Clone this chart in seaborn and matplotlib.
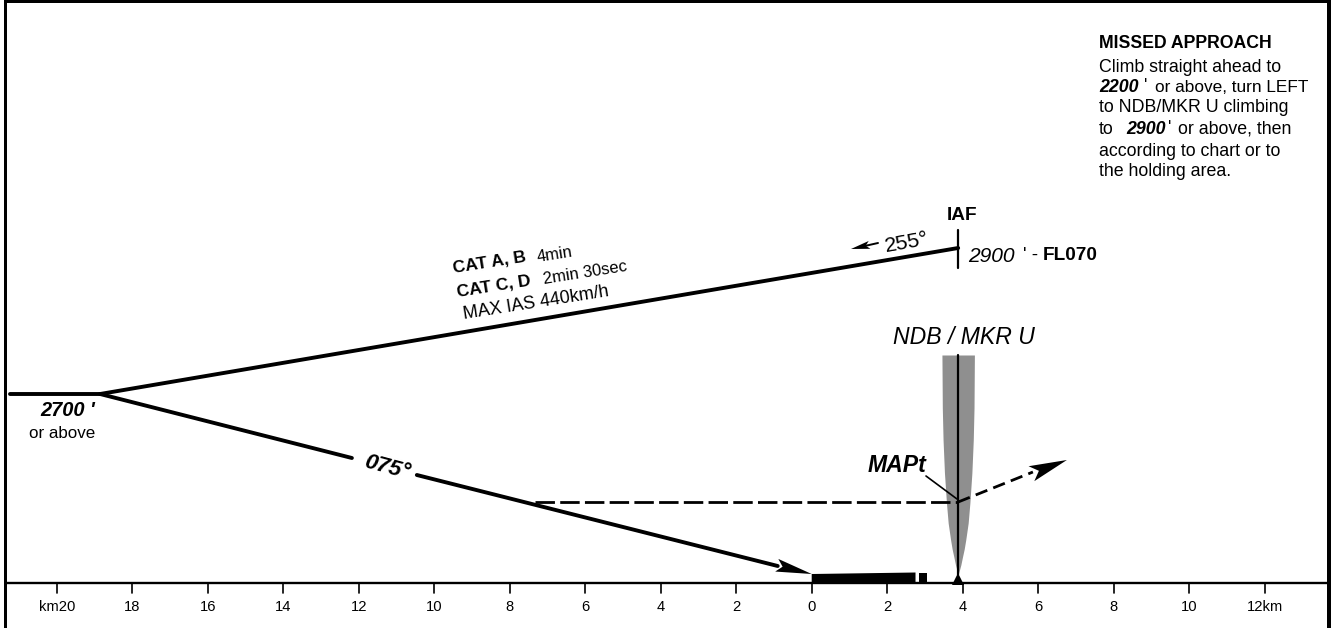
import math
import matplotlib
matplotlib.use("Agg")
import matplotlib.pyplot as plt
import seaborn as sns
from matplotlib.patches import Rectangle

# ---- data (km along track, height in profile units) ----
inbound_km = [-21.24, -18.85]
inbound_h = [189, 189]
outbound_km = [-18.85, 3.88]
outbound_h = [189, 335]
descent_a_km = [-18.85, -12.18]
descent_a_h = [189, 125]
descent_b_km = [-10.46, -0.9]
descent_b_h = [108, 17]
descent_tip = [0.0, 9]
missed_level_km = [-7.33, 3.88]
missed_level_h = [81, 81]
missed_climb_km = [3.88, 5.86]
missed_climb_h = [81, 111]
missed_tip = [6.76, 123]
cone_h = [8, 10, 18, 26, 34, 43, 60, 80, 110, 143, 175, 228]
cone_half = [0.0, 0.013, 0.07, 0.114, 0.16, 0.2, 0.265, 0.31, 0.363, 0.40, 0.42, 0.43]
ndb_km = 3.88
ndb_h = [8, 228]
iaf_h = [315, 353]
tick_km = [-20, -18, -16, -14, -12, -10, -8, -6, -4, -2, 0, 2, 4, 6, 8, 10, 12]
tick_labels = ["km20", "18", "16", "14", "12", "10", "8", "6", "4", "2", "0", "2", "4", "6", "8", "10", "12km"]
runway_km = [0.0, 2.75]
stopway_km = [2.85, 3.05]

PX = 37.75
X0 = 811.7
GROUND = 583.0
W, H = 1333, 628

sns.set_theme(style="white")
plt.rcParams["font.family"] = ["Liberation Sans", "DejaVu Sans"]
fig = plt.figure(figsize=(W / 100, H / 100), dpi=100, facecolor="white")
ax = fig.add_axes([0, 0, 1, 1])
ax.set_xlim(-X0 / PX, (W - X0) / PX)
ax.set_ylim(GROUND - H, GROUND)
ax.axis("off")


def px(x, y):
    return (x - X0) / PX, GROUND - y


def line(xs, ys, lw, **kw):
    sns.lineplot(x=xs, y=ys, ax=ax, color="black", linewidth=lw, sort=False,
                 estimator=None, legend=False, **kw)


def label(x, y, s, size, ha="left", va="center", rot=0, **kw):
    xx, yy = px(x, y)
    ax.text(xx, yy, s, fontsize=size * 0.72, ha=ha, va=va, rotation=rot,
            rotation_mode="anchor", color="black", **kw)


def dart(tip, tail, length, half, notch):
    """Barbed arrow head; tip and tail in data units, sizes in screen pixels."""
    dx = (tail[0] - tip[0]) * PX
    dy = tail[1] - tip[1]
    n = math.hypot(dx, dy)
    ux, uy = dx / n, dy / n
    pts = [(0, 0), (length, half), (notch, 0), (length, -half)]
    xs = [tip[0] + (a * ux - b * uy) / PX for a, b in pts]
    ys = [tip[1] + (a * uy + b * ux) for a, b in pts]
    ax.fill(xs, ys, color="black", lw=0, zorder=4)


# frame
for r in [(3.5, 0, 3.5, H), (1327, 0, 3.5, H), (3.5, 0, 1327, 3)]:
    x0, y0 = px(r[0], r[1] + r[3])
    ax.add_patch(Rectangle((x0, y0), r[2] / PX, r[3], color="black", lw=0, zorder=6))

# cone
ax.fill_betweenx(cone_h, [ndb_km - v for v in cone_half], [ndb_km + v for v in cone_half],
                 color="#8f8f8f", lw=0, zorder=1)

# ground and ticks
gx = [(7 - X0) / PX, (1327 - X0) / PX]
line(gx, [0, 0], 1.7)
for k, t in zip(tick_km, tick_labels):
    line([k, k], [0, -9.5], 1.2)
    ax.text(k, -24, t, fontsize=10.6, ha="center", va="center", color="black")

# profile lines
line(inbound_km, inbound_h, 2.8, zorder=3)
line(outbound_km, outbound_h, 2.8, zorder=3)
line(descent_a_km, descent_a_h, 2.8, zorder=3)
line(descent_b_km, descent_b_h, 2.8, zorder=3)
dart(descent_tip, (descent_b_km[0], descent_b_h[0]), 36, 6.5, 30)

# missed approach (dashed)
line(missed_level_km, missed_level_h, 2.0, linestyle=(0, (7.0, 1.9)), zorder=3)
line(missed_climb_km, missed_climb_h, 2.0, linestyle=(0, (4.5, 2.3)), zorder=3)
dart(missed_tip, (missed_climb_km[0], missed_climb_h[0]), 38, 8, 30)

# NDB line
line([ndb_km, ndb_km], ndb_h, 1.6, zorder=3)
line([ndb_km, ndb_km], iaf_h, 1.6, zorder=3)
ax.plot([ndb_km], [4.5], marker="^", ms=9, color="black", mew=0, zorder=4)

# MAPt pointer
a = px(926, 476); b = px(957, 499)
line([a[0], b[0]], [a[1], b[1]], 1.2, zorder=3)

# runway
ax.fill([runway_km[0], runway_km[1], runway_km[1], runway_km[0]], [0, 0, 10.5, 9],
        color="black", lw=0, zorder=4)
ax.add_patch(Rectangle((stopway_km[0], 1), stopway_km[1] - stopway_km[0], 9.5, color="black", lw=0, zorder=4))

# course arrow 255
a = px(878, 243); b = px(851, 249)
line([a[0], px(866, 0)[0]], [a[1], GROUND - 245.7], 1.4, zorder=3)
dart(b, a, 19, 4, 15)

# text
label(885, 247, "255°", 21.5, rot=10)
label(962, 216, "IAF", 19, ha="center", fontweight="bold")
label(968, 256, "2900", 21, style="italic")
label(1023, 256, "' -", 19)
label(1043, 256, "FL070", 19, fontweight="bold")
label(964, 338, "NDB / MKR U", 23, ha="center", style="italic")
label(926, 465, "MAPt", 23, ha="right", style="italic", fontweight="bold")
label(95, 411, "2700 '", 20, ha="right", style="italic", fontweight="bold")
label(62, 433, "or above", 17, ha="center")
label(387, 468, "075°", 22.5, ha="center", rot=-15, style="italic", fontweight="bold")

label(453, 268, "CAT A, B", 17.5, rot=9, fontweight="bold")
label(537, 258, "4min", 16.5, rot=9)
label(457, 292, "CAT C, D", 17.5, rot=9, fontweight="bold")
label(543, 280, "2min 30sec", 16.5, rot=9)
label(463, 315, "MAX IAS 440km/h", 18, rot=9)

TX = 1099
BODY = 17.8
label(TX, 43, "MISSED APPROACH", 17.6, fontweight="bold")
label(TX, 67, "Climb straight ahead to", BODY)
label(TX, 87, "2200", BODY, style="italic", fontweight="bold")
label(1144, 87, "'", BODY)
label(1155, 87, "or above, turn LEFT", 17.3)
label(TX, 108, "to NDB/MKR U climbing", BODY)
label(TX, 129, "to", BODY)
label(1126, 129, "2900", BODY, style="italic", fontweight="bold")
label(1168, 129, "'", BODY)
label(1178, 129, "or above, then", BODY)
label(TX, 151, "according to chart or to", BODY)
label(TX, 172, "the holding area.", BODY)

fig.savefig("out.png", dpi=100, facecolor="white")
